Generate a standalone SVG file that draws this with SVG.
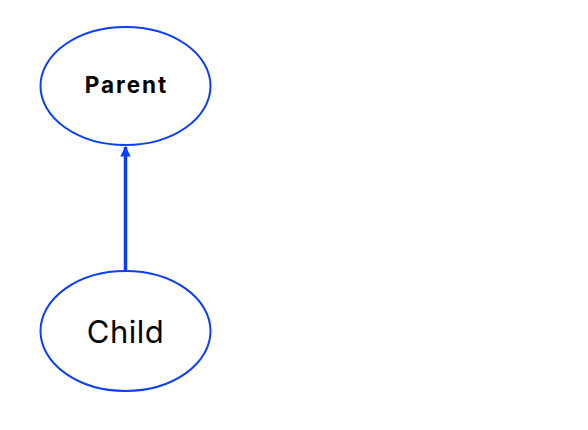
<svg xmlns="http://www.w3.org/2000/svg" width="588" height="430" viewBox="0 0 588 430">
  <style>
    .node ellipse { fill: #ffffff; stroke: #0a3ff5; stroke-width: 2; }
    .label { font-family: Inter, "Noto Sans", sans-serif; fill: #000000; text-anchor: middle; }
    .edge { stroke: #0a3ff5; stroke-width: 3.5; fill: none; }
  </style>
  <defs>
    <marker id="arrow" viewBox="0 0 10 10" refX="9" refY="5" markerWidth="3.4" markerHeight="3" markerUnits="strokeWidth" orient="auto">
      <path d="M0,0 L10,5 L0,10 z" fill="#0a3ff5"/>
    </marker>
  </defs>
  <rect width="588" height="430" fill="#ffffff"/>
  <g id="connectors">
    <line class="edge" x1="125.5" y1="270" x2="125.5" y2="147" marker-end="url(#arrow)"/>
  </g>
  <g id="parent" class="node">
    <ellipse cx="125.5" cy="86" rx="85" ry="59"/>
    <text class="label" x="126.5" y="93" font-size="22.5" font-weight="bold" letter-spacing="2">Parent</text>
  </g>
  <g id="child" class="node">
    <ellipse cx="125.5" cy="331" rx="85" ry="60"/>
    <text class="label" x="125.5" y="343" font-size="31" letter-spacing="0.5">Child</text>
  </g>
</svg>
